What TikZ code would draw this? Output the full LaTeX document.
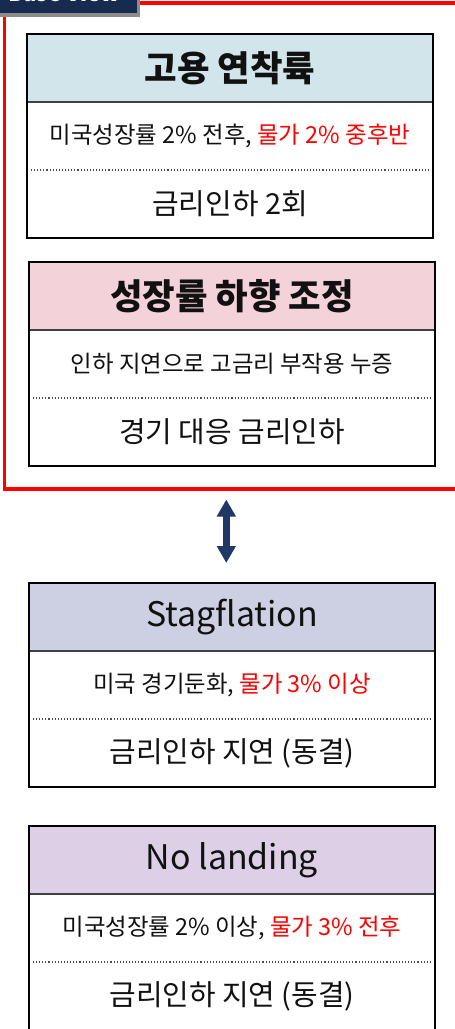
\documentclass[tikz,border=0pt]{standalone}
\usepackage{fontspec}
\setmainfont{Noto Sans CJK KR}
\usetikzlibrary{arrows.meta}
\definecolor{hblue}{HTML}{D2E5EA}
\definecolor{hpink}{HTML}{F4D2D9}
\definecolor{hgrey}{HTML}{CDD0E3}
\definecolor{hpurple}{HTML}{DCCFE6}
\definecolor{arrownavy}{HTML}{1F3864}
\definecolor{labelnavy}{HTML}{172B4F}
\definecolor{redline}{HTML}{FF0000}
\definecolor{txt}{HTML}{111111}
\newcommand\scenbox[6]{%
\begin{scope}[shift={#2}]
 \node[headcell, fill=#3] (#1h) at (203,34) {#4};
 \node[midcell] (#1m) at (203,102) {#5};
 \node[lowcell] (#1b) at (203,170) {#6};
 \draw[divider] (#1h.south west) -- (#1h.south east);
 \draw[dotsep] ([xshift=4bp]#1m.south west) -- ([xshift=-4bp]#1m.south east);
 \draw[boxframe] (#1h.north west) rectangle (#1b.south east);
\end{scope}}
\begin{document}
\begin{tikzpicture}[x=1bp,y=-1bp,
  cell/.style={minimum width=406bp, minimum height=68bp, inner sep=0pt, outer sep=0pt, text=txt, anchor=center},
  headcell/.style={cell, font=\fontsize{35.5}{40}\selectfont\bfseries},
  latinhead/.style={font=\fontsize{34}{40}\selectfont\mdseries},
  midcell/.style={cell, font=\fontsize{23.5}{28}\selectfont},
  lowcell/.style={cell, font=\fontsize{29}{34}\selectfont},
  divider/.style={draw=black!75, line width=1.5bp},
  dotsep/.style={draw=black!70, line width=1.1bp, dash pattern=on 1.1bp off 2bp},
  boxframe/.style={draw=black, line width=2.6bp},
  redframe/.style={draw=redline, line width=3.2bp},
  twoway/.style={draw=arrownavy, line width=7bp, {Triangle[length=17bp,width=18bp]}-{Triangle[length=17bp,width=18bp]}},
  hot/.style={text=redline}
]
\useasboundingbox (0,0) rectangle (455,1029);
\clip (0,0) rectangle (455,1029);
\fill[white] (0,0) rectangle (455,1029);

% red frame
\coordinate (rtopR) at (460,3);
\coordinate (rtopL) at (137,3);
\coordinate (rleftT) at (4.6,12);
\coordinate (rleftB) at (4.6,489);
\coordinate (rbotR) at (460,489);
\draw[redframe] (rtopL) -- (rtopR);
\draw[redframe] (rleftT) -- (rleftB) -- (rbotR);

% cut-off title label
\fill[black!45] (-2,-10) rectangle (140.3,16.6);
\fill[labelnavy] (-2,-10) rectangle (137,13.3);
\node[anchor=base east, text=white, font=\fontsize{22}{26}\selectfont\bfseries, inner sep=0pt] (label) at (120,1.6) {Base View};

\scenbox{a}{(27,34)}{hblue}{고용 연착륙}{미국성장률 2\% 전후, {\color{redline}물가 2\% 중후반}}{금리인하 2회}
\scenbox{b}{(29,262)}{hpink}{성장률 하향 조정}{인하 지연으로 고금리 부작용 누증}{경기 대응 금리인하}
\scenbox{c}{(29,583)}{hgrey}{\fontsize{34}{40}\selectfont\mdseries Stagflation}{미국 경기둔화, {\color{redline}물가 3\% 이상}}{금리인하 지연 (동결)}
\scenbox{d}{(29,826)}{hpurple}{\fontsize{34}{40}\selectfont\mdseries No landing}{미국성장률 2\% 이상, {\color{redline}물가 3\% 전후}}{금리인하 지연 (동결)}

% double arrow
\coordinate (arT) at (226.3,499.5);
\coordinate (arB) at (226.3,563);
\draw[twoway] (arT) -- (arB);
\end{tikzpicture}
\end{document}
